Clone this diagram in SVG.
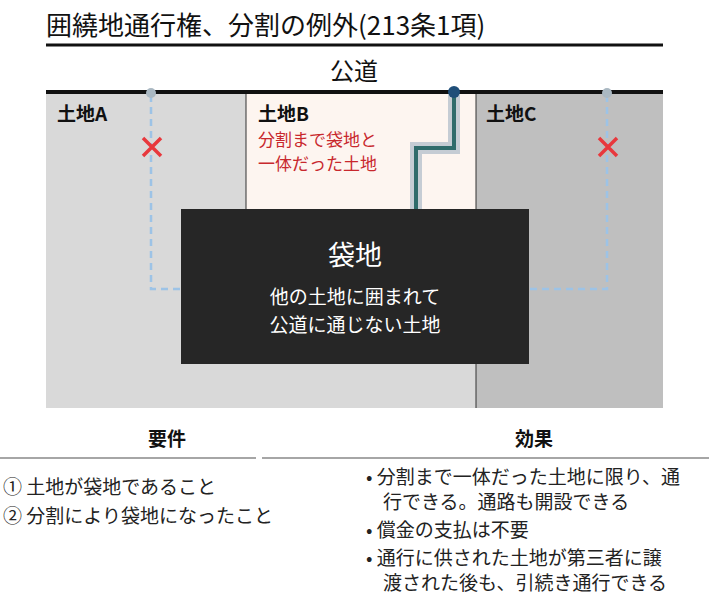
<svg xmlns="http://www.w3.org/2000/svg" width="709" height="599" viewBox="0 0 709 599">
<style>
text{font-family:"Noto Sans CJK JP","Noto Sans",sans-serif;}
.lbl{font-size:19px;font-weight:bold;fill:#111}
.body{font-size:19px;fill:#222}
.dash{fill:none;stroke:#9dc3e6;stroke-width:2.5;stroke-dasharray:7,5}
.x{stroke:#e8383d;stroke-width:3.5}
</style>
<rect width="709" height="599" fill="#fff"/>
<text x="46" y="35" font-size="26" fill="#111">囲繞地通行権、分割の例外(213条1項)</text>
<line x1="46" y1="45" x2="663" y2="45" stroke="#111" stroke-width="3"/>
<text x="354" y="80" font-size="24" fill="#111" text-anchor="middle">公道</text>
<g id="landA"><rect x="46" y="93" width="430" height="315" fill="#d9d9d9"/><text class="lbl" x="57" y="121">土地A</text></g>
<g id="landC"><rect x="476" y="93" width="187" height="315" fill="#bfbfbf"/><line x1="476" y1="209" x2="476" y2="408" stroke="#333" stroke-width="1"/><text class="lbl" x="486" y="121">土地C</text></g>
<g id="landB"><rect x="246" y="93" width="230" height="117" fill="#fdf5f0" stroke="#333" stroke-width="1"/><text class="lbl" x="258" y="121">土地B</text>
<text x="258" y="146" font-size="17" fill="#c8282d">分割まで袋地と</text><text x="258" y="170" font-size="17" fill="#c8282d">一体だった土地</text></g>
<line x1="46" y1="92" x2="663" y2="92" stroke="#111" stroke-width="4"/>
<g id="connectors">
<path class="dash" d="M151 95V289H181"/>
<path class="dash" d="M607 95V289H529"/>
<circle cx="151" cy="93" r="5" fill="#aab8c2"/><circle cx="607" cy="93" r="5" fill="#aab8c2"/>
<path d="M143 138l18 18M161 138l-18 18" class="x"/>
<path d="M599 138l18 18M617 138l-18 18" class="x"/>
<path d="M454 95V148H416V210" fill="none" stroke="#c5ccd4" stroke-width="12"/>
<path d="M454 95V148H416V210" fill="none" stroke="#2f6b6b" stroke-width="4"/>
<circle cx="454" cy="92" r="6" fill="#1f4e79"/>
</g>
<g id="bag"><rect x="181" y="209" width="348" height="155" fill="#262626"/>
<text x="355" y="265" font-size="27" fill="#fff" text-anchor="middle">袋地</text>
<text x="355" y="304" font-size="19" fill="#fff" text-anchor="middle">他の土地に囲まれて</text>
<text x="355" y="332" font-size="19" fill="#fff" text-anchor="middle">公道に通じない土地</text></g>
<g id="table">
<text x="167" y="446" class="lbl" text-anchor="middle">要件</text>
<text x="534" y="446" class="lbl" text-anchor="middle">効果</text>
<line x1="0" y1="458" x2="256" y2="458" stroke="#888" stroke-width="1.5"/>
<line x1="262" y1="458" x2="709" y2="458" stroke="#888" stroke-width="1.5"/>
<text class="body" x="3" y="494">① 土地が袋地であること</text>
<text class="body" x="3" y="523">② 分割により袋地になったこと</text>
<text class="body" x="366" y="484">• 分割まで一体だった土地に限り、通</text>
<text class="body" x="383" y="509">行できる。通路も開設できる</text>
<text class="body" x="366" y="537">• 償金の支払は不要</text>
<text class="body" x="366" y="565" fill="#3d7a78">• 通行に供された土地が第三者に譲</text>
<text class="body" x="383" y="590" fill="#3d7a78">渡された後も、引続き通行できる</text>
</g>
</svg>
